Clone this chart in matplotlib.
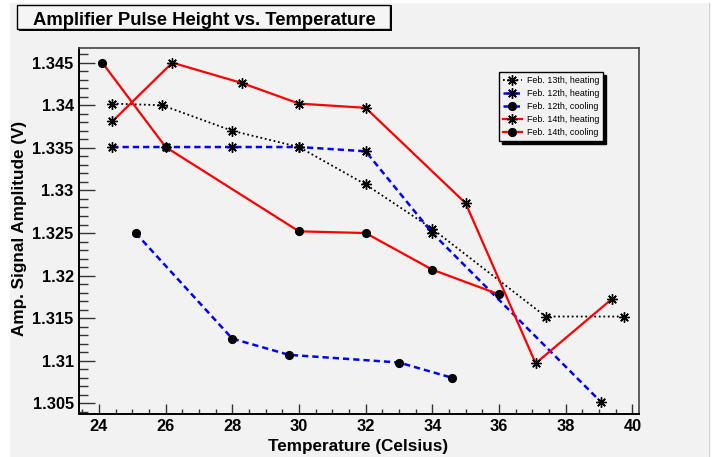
import matplotlib
matplotlib.use("Agg")
import matplotlib.pyplot as plt
from matplotlib.patches import Rectangle
from matplotlib.ticker import MultipleLocator, FixedLocator
from matplotlib.lines import Line2D

# ---------------- data ----------------
feb13_heat_x = [24.4, 25.9, 28.0, 30.0, 32.0, 34.0, 37.4, 39.75]
feb13_heat_y = [1.3402, 1.3400, 1.3370, 1.3351, 1.3307, 1.3255, 1.3152, 1.3152]

feb12_heat_x = [24.4, 26.0, 28.0, 30.0, 32.0, 34.0, 39.05]
feb12_heat_y = [1.3351, 1.3351, 1.3351, 1.3351, 1.3346, 1.3250, 1.3052]

feb12_cool_x = [25.1, 28.0, 29.7, 33.0, 34.6]
feb12_cool_y = [1.3250, 1.3126, 1.3107, 1.3098, 1.3080]

feb14_heat_x = [24.4, 26.2, 28.3, 30.0, 32.0, 35.0, 37.1, 39.4]
feb14_heat_y = [1.3381, 1.3450, 1.3426, 1.3402, 1.3397, 1.3285, 1.3097, 1.3173]

feb14_cool_x = [24.1, 26.0, 30.0, 32.0, 34.0, 36.0]
feb14_cool_y = [1.3450, 1.3351, 1.3252, 1.3250, 1.3207, 1.3178]

series_labels = ["Feb. 13th, heating", "Feb. 12th, heating", "Feb. 12th, cooling",
                 "Feb. 14th, heating", "Feb. 14th, cooling"]

x_ticks = [24, 26, 28, 30, 32, 34, 36, 38, 40]
y_ticks = [1.305, 1.31, 1.315, 1.32, 1.325, 1.33, 1.335, 1.34, 1.345]
y_tick_labels = ["1.305", "1.31", "1.315", "1.32", "1.325", "1.33", "1.335", "1.34", "1.345"]

title = "Amplifier Pulse Height vs. Temperature"
xlabel = "Temperature (Celsius)"
ylabel = "Amp. Signal Amplitude (V)"

# ---------------- figure ----------------
W, H = 715, 457
plt.rcParams['font.family'] = ['Liberation Sans', 'DejaVu Sans']
fig = plt.figure(figsize=(W / 100, H / 100), dpi=100)
fig.patch.set_facecolor('white')

BG = '#f2f2f2'

def fx(px):
    return px / W

def fy(py):
    return 1 - py / H

# canvas background
fig.patches.append(Rectangle((fx(10), 0), fx(698), fy(3), transform=fig.transFigure,
                             facecolor=BG, edgecolor='none', zorder=-10))
fig.add_artist(Line2D([fx(708.5), fx(708.5)], [0, fy(3)], transform=fig.transFigure,
                      color='#d0d0d0', lw=1))

# title box
fig.patches.append(Rectangle((fx(19), fy(31)), fx(373), (26) / H, transform=fig.transFigure,
                             facecolor='black', edgecolor='none', zorder=1))
fig.patches.append(Rectangle((fx(17), fy(29)), fx(373), (24) / H, transform=fig.transFigure,
                             facecolor='#f5f5f5', edgecolor='black', lw=1, zorder=2))
fig.text(fx(204), fy(25), title, ha='center', va='baseline', fontsize=13.3,
         fontweight='bold', zorder=3)

# axes
L, R, T, B = 79.3, 639.0, 48.3, 413.7
ax = fig.add_axes([fx(L), fy(B), (R - L) / W, (B - T) / H])
ax.set_facecolor(BG)

STAR = (8, 2, 0)
ax.plot(feb13_heat_x, feb13_heat_y, color='black', ls=(0, (1, 1.5)), lw=1.3,
        marker=STAR, ms=7.5, mec='black', mew=1, label=series_labels[0])
ax.plot(feb12_heat_x, feb12_heat_y, color='blue', ls=(0, (2.5, 1.6)), lw=1.8,
        marker=STAR, ms=7.5, mec='black', mew=1, label=series_labels[1])
ax.plot(feb12_cool_x, feb12_cool_y, color='blue', ls=(0, (2.5, 1.6)), lw=1.8,
        marker='o', ms=5.6, mfc='black', mec='black', label=series_labels[2])
ax.plot(feb14_heat_x, feb14_heat_y, color='red', ls='-', lw=1.6,
        marker=STAR, ms=7.5, mec='black', mew=1, label=series_labels[3])
ax.plot(feb14_cool_x, feb14_cool_y, color='red', ls='-', lw=1.6,
        marker='o', ms=5.6, mfc='black', mec='black', label=series_labels[4])

ax.set_xlim(23.41, 40.2)
ax.set_ylim(1.30379, 1.34669)

ax.xaxis.set_major_locator(FixedLocator(x_ticks))
ax.xaxis.set_minor_locator(MultipleLocator(0.5))
ax.yaxis.set_major_locator(FixedLocator(y_ticks))
ax.set_yticklabels(y_tick_labels)
ax.yaxis.set_minor_locator(MultipleLocator(0.001))

ax.tick_params(axis='y', which='major', direction='in', length=11.5, width=1, color='#333333',
               labelsize=11.8, pad=4)
ax.tick_params(axis='y', which='minor', direction='in', length=6.3, width=1, color='#333333')
ax.tick_params(axis='x', which='major', direction='in', length=7.2, width=1, color='#333333',
               labelsize=11.8, pad=4)
ax.tick_params(axis='x', which='minor', direction='in', length=3.6, width=1, color='#333333')
for lab in ax.get_xticklabels() + ax.get_yticklabels():
    lab.set_fontweight('bold')

for s in ['left', 'bottom']:
    ax.spines[s].set_linewidth(1.4)
    ax.spines[s].set_color('black')
for s in ['top', 'right']:
    ax.spines[s].set_linewidth(1.2)
    ax.spines[s].set_color('#444444')

fig.text(fx(358), fy(447), xlabel, ha='center', va='center', fontsize=12.3, fontweight='bold')
fig.text(fx(20), fy(228), ylabel, ha='center', va='center', rotation=90,
         fontsize=12.3, fontweight='bold')

leg = ax.legend(loc='upper left', bbox_to_anchor=(0.75, 0.935), borderaxespad=0,
                fontsize=6.4, frameon=True, fancybox=False, edgecolor='black',
                facecolor=BG, framealpha=1, handlelength=2.1, handletextpad=0.6,
                labelspacing=0.45, borderpad=0.45, numpoints=1,
                shadow={'color': 'black', 'alpha': 1})
leg.get_frame().set_linewidth(1)

fig.savefig('out.png', dpi=100, facecolor=fig.get_facecolor())
